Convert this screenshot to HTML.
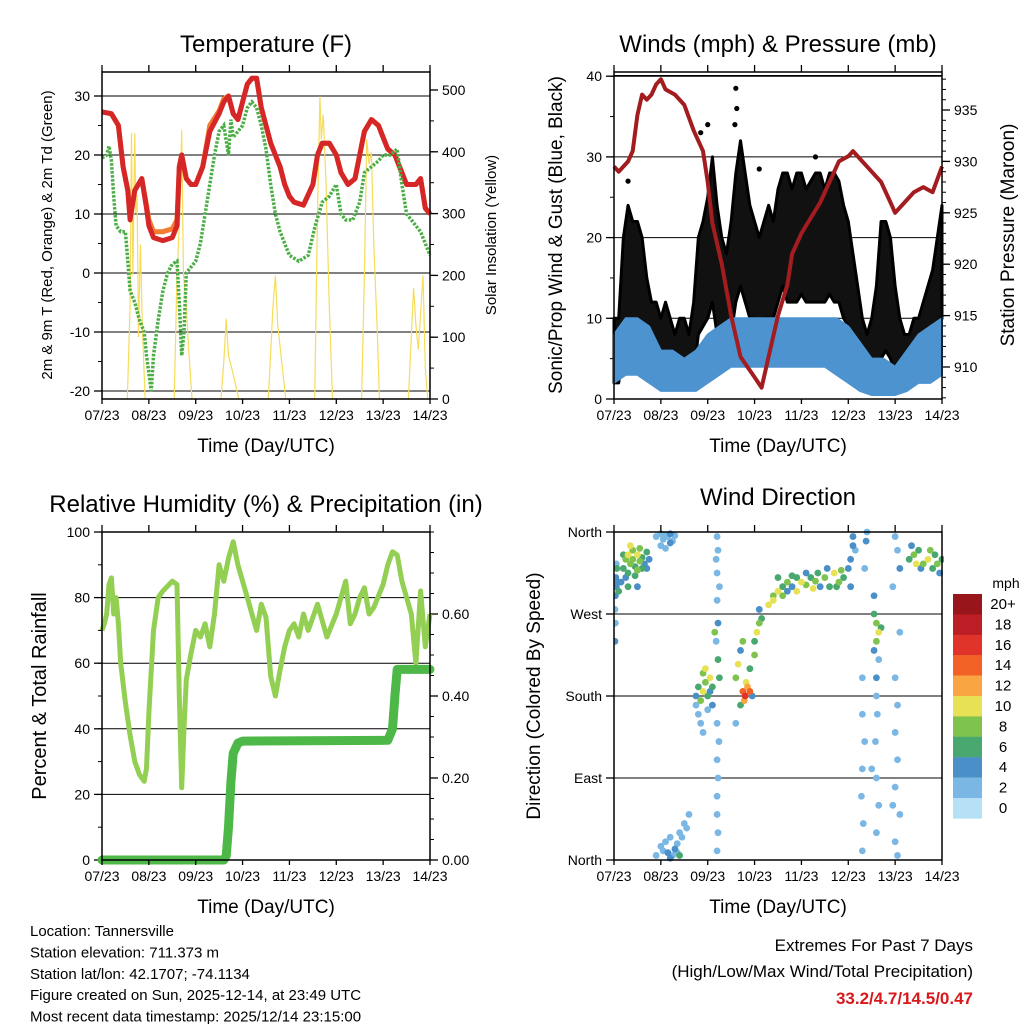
<!DOCTYPE html>
<html><head><meta charset="utf-8">
<style>
body{margin:0;background:#fff;}
svg{display:block;font-family:"Liberation Sans",sans-serif;}
</style></head>
<body>
<svg id="c" width="1024" height="1024" viewBox="0 0 1024 1024"></svg>
<script>
// ---------- DATA ----------
const dayLabels=["07/23","08/23","09/23","10/23","11/23","12/23","13/23","14/23"];
const tT=[0,0.2,0.35,0.45,0.55,0.6,0.7,0.85,0.95,1.0,1.1,1.3,1.5,1.6,1.65,1.7,1.8,1.9,2.0,2.15,2.3,2.5,2.6,2.7,2.8,2.9,3.0,3.1,3.2,3.3,3.4,3.5,3.6,3.7,3.8,3.9,4.0,4.1,4.3,4.5,4.6,4.7,4.85,5.0,5.1,5.25,5.4,5.5,5.6,5.75,5.9,6.0,6.1,6.25,6.4,6.5,6.7,6.8,6.9,7.0];
const tempRed=[27.3,27,25,18,14,9,14,16,11,8,6,5.5,6,8,18,20,16,15,15,18,24,27,29,30,27,26,29,32,33,33,28,25,22,20,18,15,13,12,11.5,15,20,22,22,20,17,15,16,20,24,26,25,23,21,20,17,15,15,16,11,10];
const tempOrange=[27.3,27,25,18,14,9.5,14,16,11.5,9,7,7,7.5,9,18,20,16,15,15,18,25,27.5,29.5,30,27,26,29,32,33,33,28,25,22,20,18,15,13,12,11.5,15,20,22,22,20,17,15,16,20,24,26,25,23,21,20,17,15,15,16,11,10];
const tdT=[0,0.1,0.15,0.2,0.25,0.3,0.4,0.5,0.55,0.6,0.7,0.8,0.9,0.95,1.0,1.05,1.1,1.2,1.3,1.4,1.5,1.6,1.65,1.7,1.75,1.8,1.9,2.0,2.1,2.2,2.3,2.4,2.5,2.6,2.7,2.75,2.8,2.9,3.0,3.1,3.2,3.3,3.4,3.5,3.6,3.7,3.8,3.9,4.0,4.2,4.4,4.55,4.7,4.85,5.0,5.1,5.2,5.35,5.5,5.6,5.75,5.9,6.0,6.15,6.3,6.4,6.5,6.6,6.7,6.8,6.9,7.0];
const dewpoint=[19.5,20,21.5,19,13,8,7,7,2,-3,-5,-8,-10,-14,-17,-20,-14,-8,-3,0,1.5,2,-5,-14,-10,0,1,2,5,10,15,20,24,25,20,26,23,24,25,28,29,28,25,21,15,10,7,5,3,2,3,8,12,13,15,10,9,9,12,17,18,19,20,20,21,15,10,9,8,7,5,3];
const solarT=[0.54,0.6,0.63,0.66,0.7,0.72,0.75,0.78,0.82,0.86,0.92, 1.54,1.6,1.66,1.7,1.74,1.8,1.85,1.92, 2.54,2.6,2.65,2.7,2.8,2.92, 3.55,3.65,3.7,3.75,3.85,3.92, 4.54,4.6,4.65,4.68,4.72,4.78,4.85,4.92, 5.54,5.6,5.65,5.7,5.75,5.8,5.88,5.92, 6.54,6.6,6.65,6.7,6.75,6.85,6.9,6.95];
const solar=[0,150,430,200,430,300,330,100,250,120,0, 0,200,300,435,200,150,80,0, 0,60,130,70,40,0, 0,150,200,120,50,0, 0,300,490,420,460,350,150,0, 0,200,420,380,400,250,100,0, 0,100,180,120,80,200,50,0];
const presT=[0,0.1,0.3,0.4,0.5,0.6,0.7,0.8,0.9,1.0,1.1,1.3,1.5,1.7,1.9,2.0,2.1,2.3,2.5,2.7,2.85,3.0,3.15,3.3,3.5,3.7,3.8,4.0,4.2,4.4,4.6,4.8,5.0,5.1,5.3,5.5,5.7,5.9,6.0,6.2,6.4,6.6,6.8,7.0];
const pressure=[929.5,929,930,931,934.5,936.5,936,936.5,937.5,938,937,936.5,935.5,933,931,928,924,920,915,911,910,909,908,911,915,918,921,923,924.5,926,928,930,930.5,931,930,929,928,926,925,926,927,927.5,927,929.5];
const gustHi=[10,10,20,24,22,22,20,15,12,12,10,12,10,8,10,10,8,12,20,22,25,30,24,20,18,22,28,32,28,24,22,20,22,24,22,26,28,28,26,28,28,26,27,28,28,26,28,28,27,24,22,18,14,10,8,10,14,22,22,20,14,10,8,8,10,10,12,14,16,20,24];
const gustLo=[2,2,6,8,9,10,8,6,5,4,3,4,3,3,4,3,2,3,8,9,10,12,8,7,7,8,12,14,12,10,10,9,10,10,10,12,14,12,12,12,13,12,12,12,12,12,13,12,12,10,9,6,5,3,2,2,3,5,6,5,3,2,2,2,3,3,4,5,6,8,10];
const gustOutT=[2.6,2.62,2.58,2.0,3.1,1.85,4.3,0.3];
const gustOut=[38.5,36,34,34,28.5,33,30,27];
const sonicHi=[8,10,10,9,6,6,5,6,8,9,10,10,10,10,10,10,10,10,10,10,9,7,5,5,4,6,8,9,10];
const sonicLo=[2,3,3,2,1,1,1,1,2,3,4,4,4,4,4,4,4,4,4,3,2,1,0.5,0.5,0.5,1,2,2,3];
const rhT=[0,0.05,0.1,0.15,0.2,0.25,0.3,0.35,0.4,0.5,0.6,0.7,0.8,0.9,0.95,1.0,1.1,1.2,1.3,1.5,1.6,1.65,1.7,1.75,1.8,1.9,2.0,2.1,2.2,2.3,2.4,2.5,2.6,2.7,2.8,2.9,3.0,3.1,3.2,3.3,3.4,3.5,3.6,3.7,3.8,3.9,4.0,4.1,4.2,4.3,4.4,4.6,4.7,4.8,5.0,5.1,5.2,5.3,5.4,5.5,5.6,5.7,5.8,6.0,6.1,6.2,6.3,6.4,6.5,6.6,6.7,6.8,6.9,7.0];
const rh=[70,72,75,84,86,75,80,72,60,48,38,30,26,24,28,45,70,80,82,85,84,50,22,40,55,63,70,68,72,65,75,90,85,92,97,90,85,80,75,70,78,74,56,50,58,65,70,72,68,75,70,78,73,68,75,80,85,72,75,80,83,75,77,84,90,94,93,85,80,75,60,82,65,75];
const precipT=[0,2.6,2.65,2.7,2.75,2.8,2.9,3.0,6.1,6.2,6.25,6.3,7.0];
const precip=[0,0,0.01,0.08,0.19,0.26,0.285,0.29,0.292,0.32,0.4,0.465,0.465];
const wdTime=[0.02,0.03,0.05,0.04,0.06,0.08,0.03,0.1,0.02,0.05,
0.2,0.25,0.3,0.35,0.4,0.45,0.5,0.55,0.6,0.3,0.4,0.5,0.6,0.65,0.7,0.35,0.45,0.25,0.55,0.7,0.3,0.2,0.15,0.5,0.75,
0.9,1.0,1.05,1.1,1.15,1.2,1.25,1.3,1.0,1.1,1.2,
0.9,1.0,1.05,1.1,1.15,1.2,1.25,1.3,1.35,1.4,1.45,1.5,1.55,1.6,1.4,1.2,1.35,
2.2,2.22,2.18,2.2,2.25,2.2,2.22,2.18,2.22,2.2,2.24,2.2,2.22,2.2,2.2,2.22,2.2,2.25,2.15,
1.75,1.8,1.85,1.9,1.95,2.0,2.05,2.1,1.8,1.9,2.0,1.85,1.95,2.05,1.75,2.1,1.9,
2.75,2.8,2.85,2.78,2.9,2.82,2.7,2.95,2.6,2.65,2.7,2.75,2.6,
2.9,3.0,3.05,3.1,3.15,3.0,3.1,
3.3,3.4,3.5,3.6,3.7,3.8,3.9,4.0,4.1,4.2,4.3,4.4,3.5,3.7,3.9,4.1,4.25,3.6,3.4,3.8,4.35,
4.5,4.6,4.7,4.8,4.9,5.0,4.55,4.75,4.85,5.05,5.1,5.1,5.05,5.15,
5.3,5.32,5.28,5.3,5.35,5.3,5.3,5.38,5.4,5.35,
5.55,5.6,5.65,5.6,5.7,5.55,5.65,5.6,5.6,5.62,5.58,5.6,5.65,5.6,5.55,5.5,
6.0,6.05,6.1,5.95,6.0,6.05,6.0,6.05,6.0,6.1,6.0,6.05,6.1,5.95,
6.3,6.4,6.5,6.6,6.7,6.8,6.9,7.0,6.35,6.55,6.75,6.95,6.45,6.85];
const wdDir=[275,290,300,310,320,305,260,295,240,325,
320,330,335,325,330,322,335,328,320,315,340,318,332,325,338,345,312,310,342,320,300,335,305,300,330,
355,358,352,357,355,358,350,356,345,342,348,
5,15,10,20,8,25,5,12,18,30,25,40,35,50,5,2,8,
355,340,330,315,300,285,260,240,220,150,130,110,90,70,50,30,10,200,250,
180,190,175,185,195,180,200,170,160,205,165,150,210,185,170,190,140,
185,180,190,175,185,195,170,180,200,215,230,240,150,
210,240,250,260,265,225,275,
280,290,295,300,305,300,310,305,302,310,306,300,310,295,295,315,298,290,285,312,315,
310,300,315,305,310,320,320,300,318,330,345,355,300,340,
10,40,70,100,130,160,200,350,360,320,
270,260,250,240,255,230,220,200,180,160,130,90,60,30,290,100,
355,340,320,300,200,170,140,110,80,50,20,5,250,60,
330,335,340,325,330,320,325,330,345,320,340,315,325,335];
const wdSpeed=[3,4,4,5,6,5,3,6,4,3,
6,8,10,8,9,7,10,8,6,7,8,8,6,5,6,10,6,5,9,4,6,7,4,5,4,
2,3,2,2,3,4,3,2,3,2,4,
2,3,2,3,4,2,3,5,2,3,2,2,3,2,6,5,3,
2,3,2,2,3,2,4,2,6,3,2,2,3,2,2,3,2,6,8,
4,6,8,10,8,6,10,4,3,8,2,2,10,4,2,6,2,
14,16,12,12,14,10,6,4,8,10,4,8,3,
6,6,10,8,6,8,4,
10,8,10,6,8,4,6,10,8,6,8,4,6,4,10,4,10,8,10,6,6,
8,6,10,8,6,4,4,6,8,4,4,4,4,2,
2,3,2,2,3,2,2,4,2,2,
6,8,10,8,6,4,2,4,2,2,2,3,2,2,4,2,
2,3,4,2,2,2,3,2,2,2,2,3,2,2,
6,8,6,8,10,6,8,6,4,4,8,4,10,6];
const legendLabels=["20+","18","16","14","12","10","8","6","4","2","0"];
const legendColors=["#98151b","#bd1d25","#e0332a","#f26125","#f8a542","#e6e155","#7ec34e","#48a870","#4a8fc7","#7ab7e4","#b5e0f6"];

// ---------- HELPERS ----------
const NS="http://www.w3.org/2000/svg";
const svg=document.getElementById('c');
function mk(tag,attrs,parent){const e=document.createElementNS(NS,tag);for(const k in attrs)e.setAttribute(k,attrs[k]);(parent||svg).appendChild(e);return e;}
function txt(x,y,s,size,anchor,rot,fill,weight){const t=mk('text',{x:x,y:y,'font-size':size,'text-anchor':anchor||'middle',fill:fill||'#000'});if(weight)t.setAttribute('font-weight',weight);if(rot)t.setAttribute('transform','rotate(-90 '+x+' '+y+')');t.textContent=s;return t;}
function poly(xs,ys,fx,fy){return xs.map((v,i)=>fx(v).toFixed(1)+','+fy(ys[i]).toFixed(1)).join(' ');}

function frame(L,T,R,B,name){
  const g=mk('g',{});
  
  
  mk('rect',{x:L,y:T,width:R-L,height:B-T,fill:'none',stroke:'#000','stroke-width':1.5},g);
  const w=(R-L)/7;
  for(let i=0;i<=7;i++){const x=L+i*w;
    mk('line',{x1:x,y1:B,x2:x,y2:B+5,stroke:'#000','stroke-width':1.3},g);
    mk('line',{x1:x,y1:T,x2:x,y2:T-7,stroke:'#000','stroke-width':1.3},g);
    const t=txt(x,B+21,dayLabels[i],14);
    
    
  }
  const xt=txt((L+R)/2,B+53,'Time (Day/UTC)',19);
  
  
  return g;
}
function yAxis(L,R,vals,fy,labels,side,grid,minorStep,lo,hi){
  const g=mk('g',{});
  
  
  vals.forEach((v,i)=>{const y=fy(v);
    if(grid)mk('line',{x1:L,y1:y,x2:R,y2:y,stroke:'#000','stroke-width':1},g);
    const x=side==='left'?L:R;const d=side==='left'?-8:8;
    mk('line',{x1:x,y1:y,x2:x+d,y2:y,stroke:'#000','stroke-width':1.3},g);
    txt(side==='left'?L-12:R+12,y+5,labels[i],14,side==='left'?'end':'start',0,null,null);
  });
  if(minorStep){for(let v=lo;v<=hi+1e-9;v+=minorStep){const y=fy(v);const x=side==='left'?L:R;const d=side==='left'?-4:4;mk('line',{x1:x,y1:y,x2:x+d,y2:y,stroke:'#000','stroke-width':1},g);}}
  return g;
}

// ---------- PANEL 1 Temperature ----------
(function(){
  const L=102,R=430,T=72,B=399;
  const fx=d=>L+d*(R-L)/7, fy=v=>273-v*5.9, fs=v=>B-v*0.618;
  const tt=txt(266,52,'Temperature (F)',24);
  yAxis(L,R,[-20,-10,0,10,20,30],fy,['-20','-10','0','10','20','30'],'left',true,5,-20,30);
  yAxis(L,R,[0,100,200,300,400,500],fs,['0','100','200','300','400','500'],'right',false,50,0,500);
  const cl=mk('clipPath',{id:'c1'});mk('rect',{x:L,y:T,width:R-L,height:B-T},cl);
  const s=mk('polyline',{points:poly(solarT,solar,fx,fs),fill:'none',stroke:'#f7dc5a','stroke-width':1.2,'clip-path':'url(#c1)'});
  
  const o=mk('polyline',{points:poly(tT,tempOrange,fx,fy),fill:'none',stroke:'#f47c30','stroke-width':5,'stroke-linejoin':'round'});
  
  const r=mk('polyline',{points:poly(tT,tempRed,fx,fy),fill:'none',stroke:'#d62728','stroke-width':5,'stroke-linejoin':'round'});
  
  const gd=mk('polyline',{points:poly(tdT,dewpoint,fx,fy),fill:'none',stroke:'#4aae45','stroke-width':3.5,'stroke-dasharray':'2.5 1.5'});
  
  frame(L,T,R,B,'temperature');
  const a=txt(52,235,'2m & 9m T (Red, Orange) & 2m Td (Green)',15,'middle',true);
  const b=txt(496,235,'Solar Insolation (Yellow)',15,'middle',true);
})();

// ---------- PANEL 2 Winds ----------
(function(){
  const L=614,R=942,T=72,B=399;
  const fx=d=>L+d*(R-L)/7, fy=v=>B-v*8.07, fp=p=>367-(p-910)*10.28;
  const tt=txt(778,52,'Winds (mph) & Pressure (mb)',24);
  yAxis(L,R,[0,10,20,30,40],fy,['0','10','20','30','40'],'left',true,5,0,40);
  yAxis(L,R,[910,915,920,925,930,935],fp,['910','915','920','925','930','935'],'right',false,1,907,938);
  const gt=gustHi.map((_,i)=>i*0.1);
  const band=gt.map((t,i)=>fx(t)+','+fy(gustHi[i])).concat(gt.slice().reverse().map((t,j)=>{const i=gt.length-1-j;return fx(t)+','+fy(gustLo[i]);})).join(' ');
  const gb=mk('polygon',{points:band,fill:'#111',stroke:'#000','stroke-width':3,'stroke-linejoin':'round'});
  
  gustOutT.forEach((t,i)=>{const c=mk('circle',{cx:fx(t),cy:fy(gustOut[i]),r:2.6,fill:'#000'});});
  const st=sonicHi.map((_,i)=>i*0.25);
  const sb=st.map((t,i)=>fx(t)+','+fy(sonicHi[i])).concat(st.slice().reverse().map((t,j)=>{const i=st.length-1-j;return fx(t)+','+fy(sonicLo[i]);})).join(' ');
  const sp=mk('polygon',{points:sb,fill:'#4d93cf',stroke:'#4d93cf','stroke-width':2});
  
  const p=mk('polyline',{points:poly(presT,pressure,fx,fp),fill:'none',stroke:'#a31c1f','stroke-width':4,'stroke-linejoin':'round'});
  
  frame(L,T,R,B,'winds');
  mk('line',{x1:L,y1:75.5,x2:R,y2:75.5,stroke:'#000','stroke-width':1});
  const a=txt(562,235,'Sonic/Prop Wind & Gust (Blue, Black)',19,'middle',true);
  const b=txt(1014,235,'Station Pressure (Maroon)',19,'middle',true);
})();

// ---------- PANEL 3 RH & Precip ----------
(function(){
  const L=102,R=430,T=532,B=860;
  const fx=d=>L+d*(R-L)/7, fy=v=>B-v*3.28, fr=v=>B-v*410;
  const tt=txt(266,512,'Relative Humidity (%) & Precipitation (in)',24);
  yAxis(L,R,[0,20,40,60,80,100],fy,['0','20','40','60','80','100'],'left',true,10,0,100);
  yAxis(L,R,[0,0.2,0.4,0.6],fr,['0.00','0.20','0.40','0.60'],'right',false,0.05,0,0.8);
  const h=mk('polyline',{points:poly(rhT,rh,fx,fy),fill:'none',stroke:'#92cf52','stroke-width':5,'stroke-linejoin':'round'});
  
  const pr=mk('polyline',{points:poly(precipT,precip,fx,fr),fill:'none',stroke:'#4db848','stroke-width':9,'stroke-linejoin':'round','stroke-linecap':'round'});
  
  frame(L,T,R,B,'humidity');
  const a=txt(46,696,'Percent & Total Rainfall',20,'middle',true);
})();

// ---------- PANEL 4 Wind Direction ----------
(function(){
  const L=614,R=942,T=532,B=860;
  const fx=d=>L+d*(R-L)/7, fy=v=>B-v*(B-T)/360;
  const tt=txt(778,505,'Wind Direction',24);
  yAxis(L,R,[0,90,180,270,360],fy,['North','East','South','West','North'],'left',true,0,0,0);
  const col=s=>{const i=Math.min(10,Math.floor(s/2));return legendColors[10-i];};
  const cl=mk('clipPath',{id:'c4'});mk('rect',{x:L,y:T-4,width:R-L+2,height:B-T+8},cl);
  const g=mk('g',{'clip-path':'url(#c4)'});
  
  
  const idx=wdTime.map((_,i)=>i).sort((a,b)=>wdSpeed[a]-wdSpeed[b]);
  idx.forEach(i=>{const c=mk('circle',{cx:fx(wdTime[i]),cy:fy(wdDir[i]),r:3.4,fill:col(wdSpeed[i])},g);
    
    });
  frame(L,T,R,B,'wind-direction');
  const a=txt(540,696,'Direction (Colored By Speed)',19,'middle',true);
  const lg=mk('g',{});
  
  
  txt(1006,588,'mph',14,'middle',0);
  legendLabels.forEach((l,i)=>{const y=594+i*20.4;
    const r=mk('rect',{x:953,y:y,width:29,height:20.6,fill:legendColors[i]},lg);
    
    txt(1003,y+15,l,15,'middle',0);});
})();

// ---------- FOOTER TEXT ----------
const info=["Location: Tannersville","Station elevation: 711.373 m","Station lat/lon: 42.1707; -74.1134","Figure created on Sun, 2025-12-14, at 23:49 UTC","Most recent data timestamp: 2025/12/14 23:15:00"];
info.forEach((s,i)=>{const t=txt(30,936+i*21.4,s,15,'start');});
const e1=txt(973,951,'Extremes For Past 7 Days',17,'end');
const e2=txt(973,977,'(High/Low/Max Wind/Total Precipitation)',17,'end');
const e3=txt(973,1004,'33.2/4.7/14.5/0.47',17,'end',0,'#d7191c','bold');
</script>
</body></html>
